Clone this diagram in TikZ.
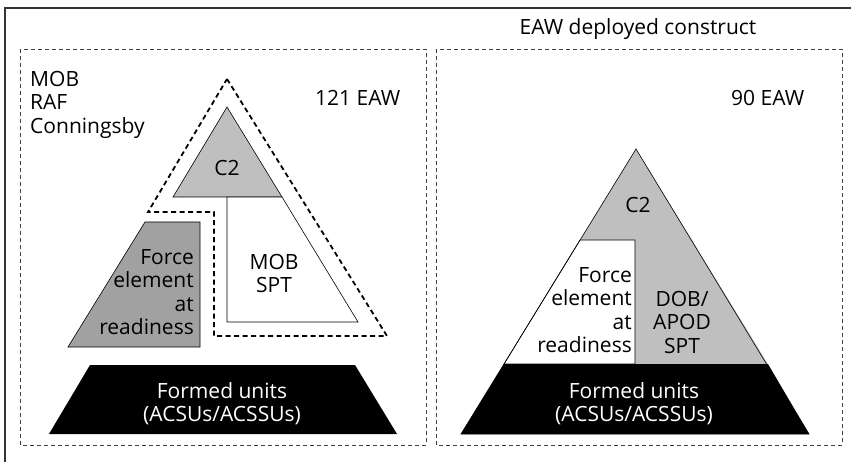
\documentclass[tikz,border=0pt]{standalone}
\usepackage{fontspec}
\setmainfont{Open Sans}
\begin{document}
\begin{tikzpicture}[
		x=1pt, y=-1pt,
		txt/.style={inner sep=0pt, font=\fontsize{21}{23.5}\selectfont},
		frame/.style={draw=black!80, line width=2.5pt},
		region/.style={draw=black!75, line width=0.8pt, dash pattern=on 4pt off 3pt},
		mobline/.style={draw, line width=1.8pt, dash pattern=on 5pt off 3.5pt},
		part/.style={draw, line width=0.6pt}
		]
		\useasboundingbox (0,0) rectangle (851,462);

		% Frame and regions
		\draw[frame] (5,462) -- (5,8) -- (851,8);
		\draw[region] (20,49) rectangle (426,445);
		\draw[region] (436,49) rectangle (842,445);
		\node[txt, anchor=base] (construct) at (638,35) {EAW deployed construct};

		% 121 EAW
		\node[txt, anchor=west, align=left] (mob) at (30,104.5) {MOB\\RAF\\Conningsby};
		\node[txt, anchor=base west] (eaw121) at (315,106) {121 EAW};
		\draw[mobline] (227,79) -- (387,336) -- (214,336) -- (214,212) -- (148,212) -- cycle;
		\draw[part, fill=black!25] (227,107) -- (282,197) -- (173,197) -- cycle;
		\draw[part, fill=white] (227,197) -- (282,197) -- (358,322) -- (227,322) -- cycle;
		\draw[part, fill=black!37] (145,222) -- (200,222) -- (200,347) -- (68,347) -- cycle;
		\fill (90,365) -- (355,365) -- (397,434) -- (49,434) -- cycle;
		\node[txt, anchor=base] (c2a) at (227,176) {C2};
		\node[txt, align=center] (mobspt) at (274,273.5) {MOB\\SPT};
		\node[txt, anchor=east, align=right] (forcea) at (194,292) {Force\\element\\at\\readiness};
		\node[txt, align=center, text=white] (unitsa) at (222,403.5) {Formed units\\(ACSUs/ACSSUs)};

		% 90 EAW
		\node[txt, anchor=base west] (eaw90) at (731,106) {90 EAW};
		\fill[black!25] (636,149) -- (768,364) -- (504,364) -- cycle;
		\draw[part, fill=white] (580,240) -- (635,240) -- (635,364) -- (504,364) -- cycle;
		\fill (504,364) -- (768,364) -- (809,434) -- (461,434) -- cycle;
		\draw[part] (636,149) -- (809,434) -- (461,434) -- cycle;
		\node[txt, anchor=base] (c2b) at (638,213) {C2};
		\node[txt, anchor=east, align=right] (forceb) at (632,310) {Force\\element\\at\\readiness};
		\node[txt, align=center] (dob) at (682,322) {DOB/\\APOD\\SPT};
		\node[txt, align=center, text=white] (unitsb) at (634,403.5) {Formed units\\(ACSUs/ACSSUs)};

	\end{tikzpicture}
\end{document}
